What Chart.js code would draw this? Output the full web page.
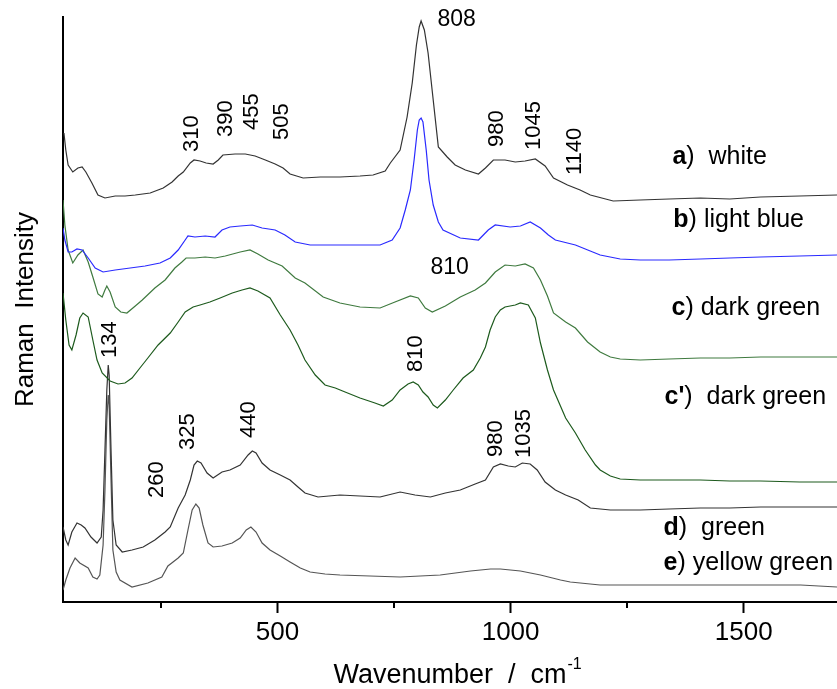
<!DOCTYPE html>
<html>
<head>
<meta charset="utf-8">
<script src="https://cdn.jsdelivr.net/npm/chart.js@4"></script>
<style>
  body { margin: 0; background: #fff; }
  #wrap { width: 837px; height: 689px; }
</style>
</head>
<body>
<div id="wrap"><canvas id="ramanChart" width="837" height="689"></canvas></div>
<script>
// Raman spectra, offset stacked (intensity in arbitrary units)
const xMajorTicks = [500, 1000, 1500];
const xMinorTicks = [250, 750, 1250];

// a) white
const whiteWn = [42, 46, 51, 61, 72, 81, 89, 102, 115, 130, 152, 173, 195, 227, 255, 274, 287, 298, 313, 321, 334, 347, 362, 373, 383, 409, 431, 452, 474, 495, 512, 527, 555, 592, 634, 677, 705, 731, 742, 763, 778, 789, 798, 804, 808, 815, 823, 834, 845, 864, 881, 903, 931, 946, 963, 988, 1010, 1031, 1053, 1074, 1092, 1122, 1149, 1171, 1220, 1278, 1340, 1407, 1470, 1536, 1620, 1700];
const whiteInt = [469, 452, 437, 430, 434, 435, 430, 419, 407, 404, 406, 406, 407, 409, 414, 420, 426, 430, 439, 442, 441, 439, 438, 442, 447, 448, 448, 446, 442, 438, 434, 428, 424, 425, 425, 426, 427, 431, 439, 452, 485, 519, 557, 575, 581, 572, 549, 502, 455, 445, 437, 432, 428, 434, 442, 442, 440, 441, 443, 436, 424, 417, 412, 407, 401, 402, 403, 404, 403, 405, 406, 407];

// b) light blue
const blueWn = [40, 44, 51, 59, 70, 81, 94, 109, 126, 152, 184, 216, 248, 270, 287, 302, 308, 323, 345, 366, 381, 398, 420, 446, 467, 495, 516, 538, 570, 634, 720, 746, 763, 774, 785, 793, 800, 804, 808, 812, 819, 825, 834, 845, 855, 892, 931, 952, 967, 999, 1021, 1042, 1064, 1081, 1096, 1139, 1192, 1235, 1278, 1340, 1407, 1470, 1536, 1620, 1700];
const blueInt = [374, 362, 350, 350, 353, 352, 344, 334, 330, 332, 334, 336, 339, 344, 352, 362, 366, 365, 366, 365, 372, 375, 376, 377, 374, 372, 367, 360, 357, 357, 357, 362, 374, 392, 412, 442, 472, 482, 484, 480, 452, 422, 397, 380, 372, 364, 362, 372, 377, 375, 376, 380, 374, 367, 362, 357, 347, 343, 342, 342, 343, 344, 345, 346, 347];

// c) dark green
const darkGreenWn = [40, 44, 51, 61, 72, 83, 94, 104, 115, 124, 130, 134, 141, 152, 164, 177, 195, 210, 237, 259, 280, 295, 304, 323, 345, 366, 388, 420, 441, 458, 480, 510, 538, 559, 598, 634, 677, 720, 752, 785, 802, 817, 832, 860, 892, 924, 946, 967, 988, 1010, 1031, 1049, 1064, 1079, 1092, 1118, 1139, 1165, 1192, 1214, 1235, 1278, 1340, 1407, 1470, 1536, 1620, 1700];
const darkGreenInt = [402, 377, 352, 339, 347, 352, 340, 325, 308, 305, 312, 316, 310, 295, 290, 289, 296, 302, 314, 322, 334, 340, 344, 344, 345, 344, 346, 350, 352, 348, 342, 336, 324, 319, 305, 299, 295, 294, 300, 306, 304, 294, 290, 296, 305, 312, 319, 330, 337, 336, 338, 334, 322, 306, 289, 280, 274, 260, 250, 245, 243, 242, 243, 244, 244, 245, 245, 245];

// c') dark green
const darkGreen2Wn = [40, 46, 53, 59, 68, 76, 83, 94, 104, 113, 124, 141, 158, 173, 188, 205, 222, 244, 270, 287, 302, 319, 334, 355, 377, 403, 424, 441, 458, 484, 506, 527, 544, 559, 581, 602, 624, 645, 677, 709, 727, 746, 763, 780, 791, 802, 812, 823, 834, 843, 860, 877, 898, 920, 935, 946, 956, 967, 978, 988, 1010, 1021, 1038, 1053, 1064, 1079, 1092, 1118, 1139, 1160, 1182, 1192, 1214, 1235, 1278, 1340, 1407, 1470, 1536, 1620, 1700];
const darkGreen2Int = [309, 282, 257, 252, 267, 284, 289, 285, 262, 242, 229, 221, 218, 219, 224, 234, 244, 257, 269, 280, 290, 295, 297, 300, 304, 309, 312, 314, 311, 304, 287, 272, 257, 242, 227, 217, 214, 210, 204, 199, 196, 202, 212, 218, 220, 217, 210, 205, 197, 194, 202, 212, 224, 232, 244, 255, 272, 285, 292, 295, 297, 299, 297, 284, 259, 232, 212, 184, 169, 152, 137, 132, 126, 123, 122, 122, 122, 121, 121, 120, 120];

// d) green
const greenWn = [40, 46, 51, 59, 70, 79, 87, 100, 113, 122, 126, 130, 134, 137, 139, 143, 147, 154, 167, 188, 212, 237, 259, 270, 287, 302, 313, 321, 328, 336, 349, 362, 381, 398, 420, 437, 446, 454, 467, 484, 506, 527, 544, 559, 587, 634, 677, 720, 763, 795, 828, 860, 892, 924, 946, 963, 978, 995, 1010, 1025, 1042, 1057, 1074, 1096, 1118, 1145, 1171, 1214, 1278, 1340, 1407, 1470, 1536, 1620, 1700];
const greenInt = [75, 62, 57, 70, 79, 77, 74, 65, 59, 65, 92, 152, 212, 237, 227, 152, 82, 57, 50, 52, 55, 62, 70, 75, 94, 107, 122, 137, 141, 139, 129, 124, 130, 132, 137, 147, 151, 149, 139, 132, 127, 122, 115, 109, 105, 107, 106, 105, 110, 107, 105, 109, 112, 118, 122, 135, 138, 136, 135, 139, 138, 132, 120, 112, 107, 102, 94, 92, 92, 93, 94, 94, 95, 95, 95];

// e) yellow green
const yellowGreenWn = [40, 46, 55, 66, 76, 94, 104, 113, 119, 126, 130, 134, 137, 139, 143, 147, 154, 162, 188, 222, 252, 265, 276, 287, 298, 308, 317, 325, 332, 340, 351, 362, 381, 403, 420, 433, 443, 454, 467, 484, 506, 527, 549, 570, 602, 634, 763, 849, 914, 957, 978, 1021, 1064, 1107, 1128, 1192, 1300, 1407, 1520, 1622, 1700];
const yellowGreenInt = [12, 22, 34, 44, 39, 34, 25, 23, 27, 57, 112, 182, 207, 197, 122, 52, 30, 22, 15, 19, 25, 36, 40, 44, 49, 72, 92, 98, 94, 77, 59, 55, 56, 59, 64, 72, 75, 70, 59, 52, 46, 40, 34, 30, 28, 27, 25, 27, 31, 33, 33, 31, 27, 22, 20, 17, 17, 17, 17, 17, 15];

const seriesNames = ['a) white', 'b) light blue', 'c) dark green', "c') dark green", 'd) green', 'e) yellow green'];
const seriesColors = ['#333333', '#2a2aff', '#3f7a3f', '#1d5a1d', '#333333', '#555555'];

// peak labels: text, wavenumber, intensity level, rotated?
const peakLabels = [
  ['808', 843, 582, false],
  ['310', 317, 450, true],
  ['390', 390, 465, true],
  ['455', 446, 472, true],
  ['505', 510, 462, true],
  ['980', 971, 455, true],
  ['1045', 1049, 452, true],
  ['1140', 1139, 427, true],
  ['810', 828, 334, false],
  ['810', 798, 230, true],
  ['134', 141, 244, true],
  ['260', 242, 104, true],
  ['325', 308, 152, true],
  ['440', 439, 164, true],
  ['980', 969, 145, true],
  ['1035', 1029, 144, true]
];

// sample names next to each trace: bold letter, rest, wavenumber, intensity level
const sampleLabels = [
  ['a', ')  white', 1347, 445],
  ['b', ') light blue', 1349, 382],
  ['c', ') dark green', 1345, 294],
  ["c'", ')  dark green', 1330, 205],
  ['d', ')  green', 1328, 74],
  ['e', ') yellow green', 1328, 39]
];

const FONT = '"Liberation Sans", Arial, sans-serif';

function toPoints(xs, ys) {
  return xs.map((x, i) => ({ x: x, y: ys[i] }));
}

const allSeries = [
  [whiteWn, whiteInt],
  [blueWn, blueInt],
  [darkGreenWn, darkGreenInt],
  [darkGreen2Wn, darkGreen2Int],
  [greenWn, greenInt],
  [yellowGreenWn, yellowGreenInt]
];

const textPlugin = {
  id: 'ramanText',
  afterDraw(chart) {
    const ctx = chart.ctx;
    const xs = chart.scales.x;
    const ys = chart.scales.y;
    ctx.save();

    // minor ticks
    ctx.strokeStyle = '#000';
    ctx.lineWidth = 2;
    xMinorTicks.forEach(v => {
      const px = Math.round(xs.getPixelForValue(v));
      ctx.beginPath();
      ctx.moveTo(px, ys.bottom);
      ctx.lineTo(px, ys.bottom + 6);
      ctx.stroke();
    });

    // superscript for the x title
    ctx.font = '27px ' + FONT;
    const w = ctx.measureText(chart.options.scales.x.title.text).width;
    const cx = (xs.left + xs.right) / 2;
    ctx.fillStyle = '#000';
    ctx.font = '16px ' + FONT;
    ctx.textAlign = 'left';
    ctx.textBaseline = 'middle';
    ctx.fillText('-1', cx + w / 2 + 1, xs.bottom - 13.5 - 11);

    // peak labels
    peakLabels.forEach(([t, wn, lv, rot]) => {
      const px = xs.getPixelForValue(wn);
      const py = ys.getPixelForValue(lv);
      ctx.textAlign = 'left';
      ctx.textBaseline = 'middle';
      if (rot) {
        ctx.font = '22px ' + FONT;
        ctx.save();
        ctx.translate(px, py);
        ctx.rotate(-Math.PI / 2);
        ctx.fillText(t, 0, 0);
        ctx.restore();
      } else {
        ctx.font = '23px ' + FONT;
        ctx.fillText(t, px, py);
      }
    });

    // sample names
    sampleLabels.forEach(([b, rest, wn, lv]) => {
      const px = xs.getPixelForValue(wn);
      const py = ys.getPixelForValue(lv);
      ctx.font = 'bold 25px ' + FONT;
      ctx.fillText(b, px, py);
      const bw = ctx.measureText(b).width;
      ctx.font = '25px ' + FONT;
      ctx.fillText(rest, px + bw, py);
    });

    ctx.restore();
  }
};

new Chart(document.getElementById('ramanChart'), {
  type: 'line',
  data: {
    datasets: allSeries.map((s, i) => ({
      label: seriesNames[i],
      data: toPoints(s[0], s[1]),
      borderColor: seriesColors[i],
      borderWidth: 1.2,
      pointRadius: 0,
      tension: 0,
      fill: false
    }))
  },
  options: {
    responsive: false,
    animation: false,
    layout: { padding: { top: 17, right: 0, left: 0, bottom: 0 } },
    plugins: {
      legend: { display: false },
      tooltip: { enabled: false }
    },
    scales: {
      x: {
        type: 'linear',
        min: 40,
        max: 1700,
        afterBuildTicks: scale => {
          scale.ticks = xMajorTicks.map(v => ({ value: v }));
        },
        afterFit: scale => { scale.height = 87; },
        ticks: {
          color: '#000',
          font: { family: FONT, size: 26 },
          padding: 4,
          maxRotation: 0,
          autoSkip: false,
          callback: v => String(v)
        },
        grid: {
          drawOnChartArea: false,
          drawTicks: true,
          tickLength: 11,
          tickWidth: 2,
          tickColor: '#000'
        },
        border: { display: true, color: '#000', width: 2 },
        title: {
          display: true,
          text: 'Wavenumber  /  cm',
          color: '#000',
          font: { family: FONT, size: 27, lineHeight: 1 },
          padding: { top: 0, bottom: 0 }
        }
      },
      y: {
        type: 'linear',
        min: 0,
        max: 585,
        afterFit: scale => { scale.width = 63; },
        ticks: { display: false },
        grid: { drawOnChartArea: false, drawTicks: false },
        border: { display: true, color: '#000', width: 2 },
        title: {
          display: true,
          text: 'Raman  Intensity',
          color: '#000',
          font: { family: FONT, size: 26, lineHeight: 1 },
          padding: { top: 13, bottom: 0 }
        }
      }
    }
  },
  plugins: [textPlugin]
});
</script>
</body>
</html>
